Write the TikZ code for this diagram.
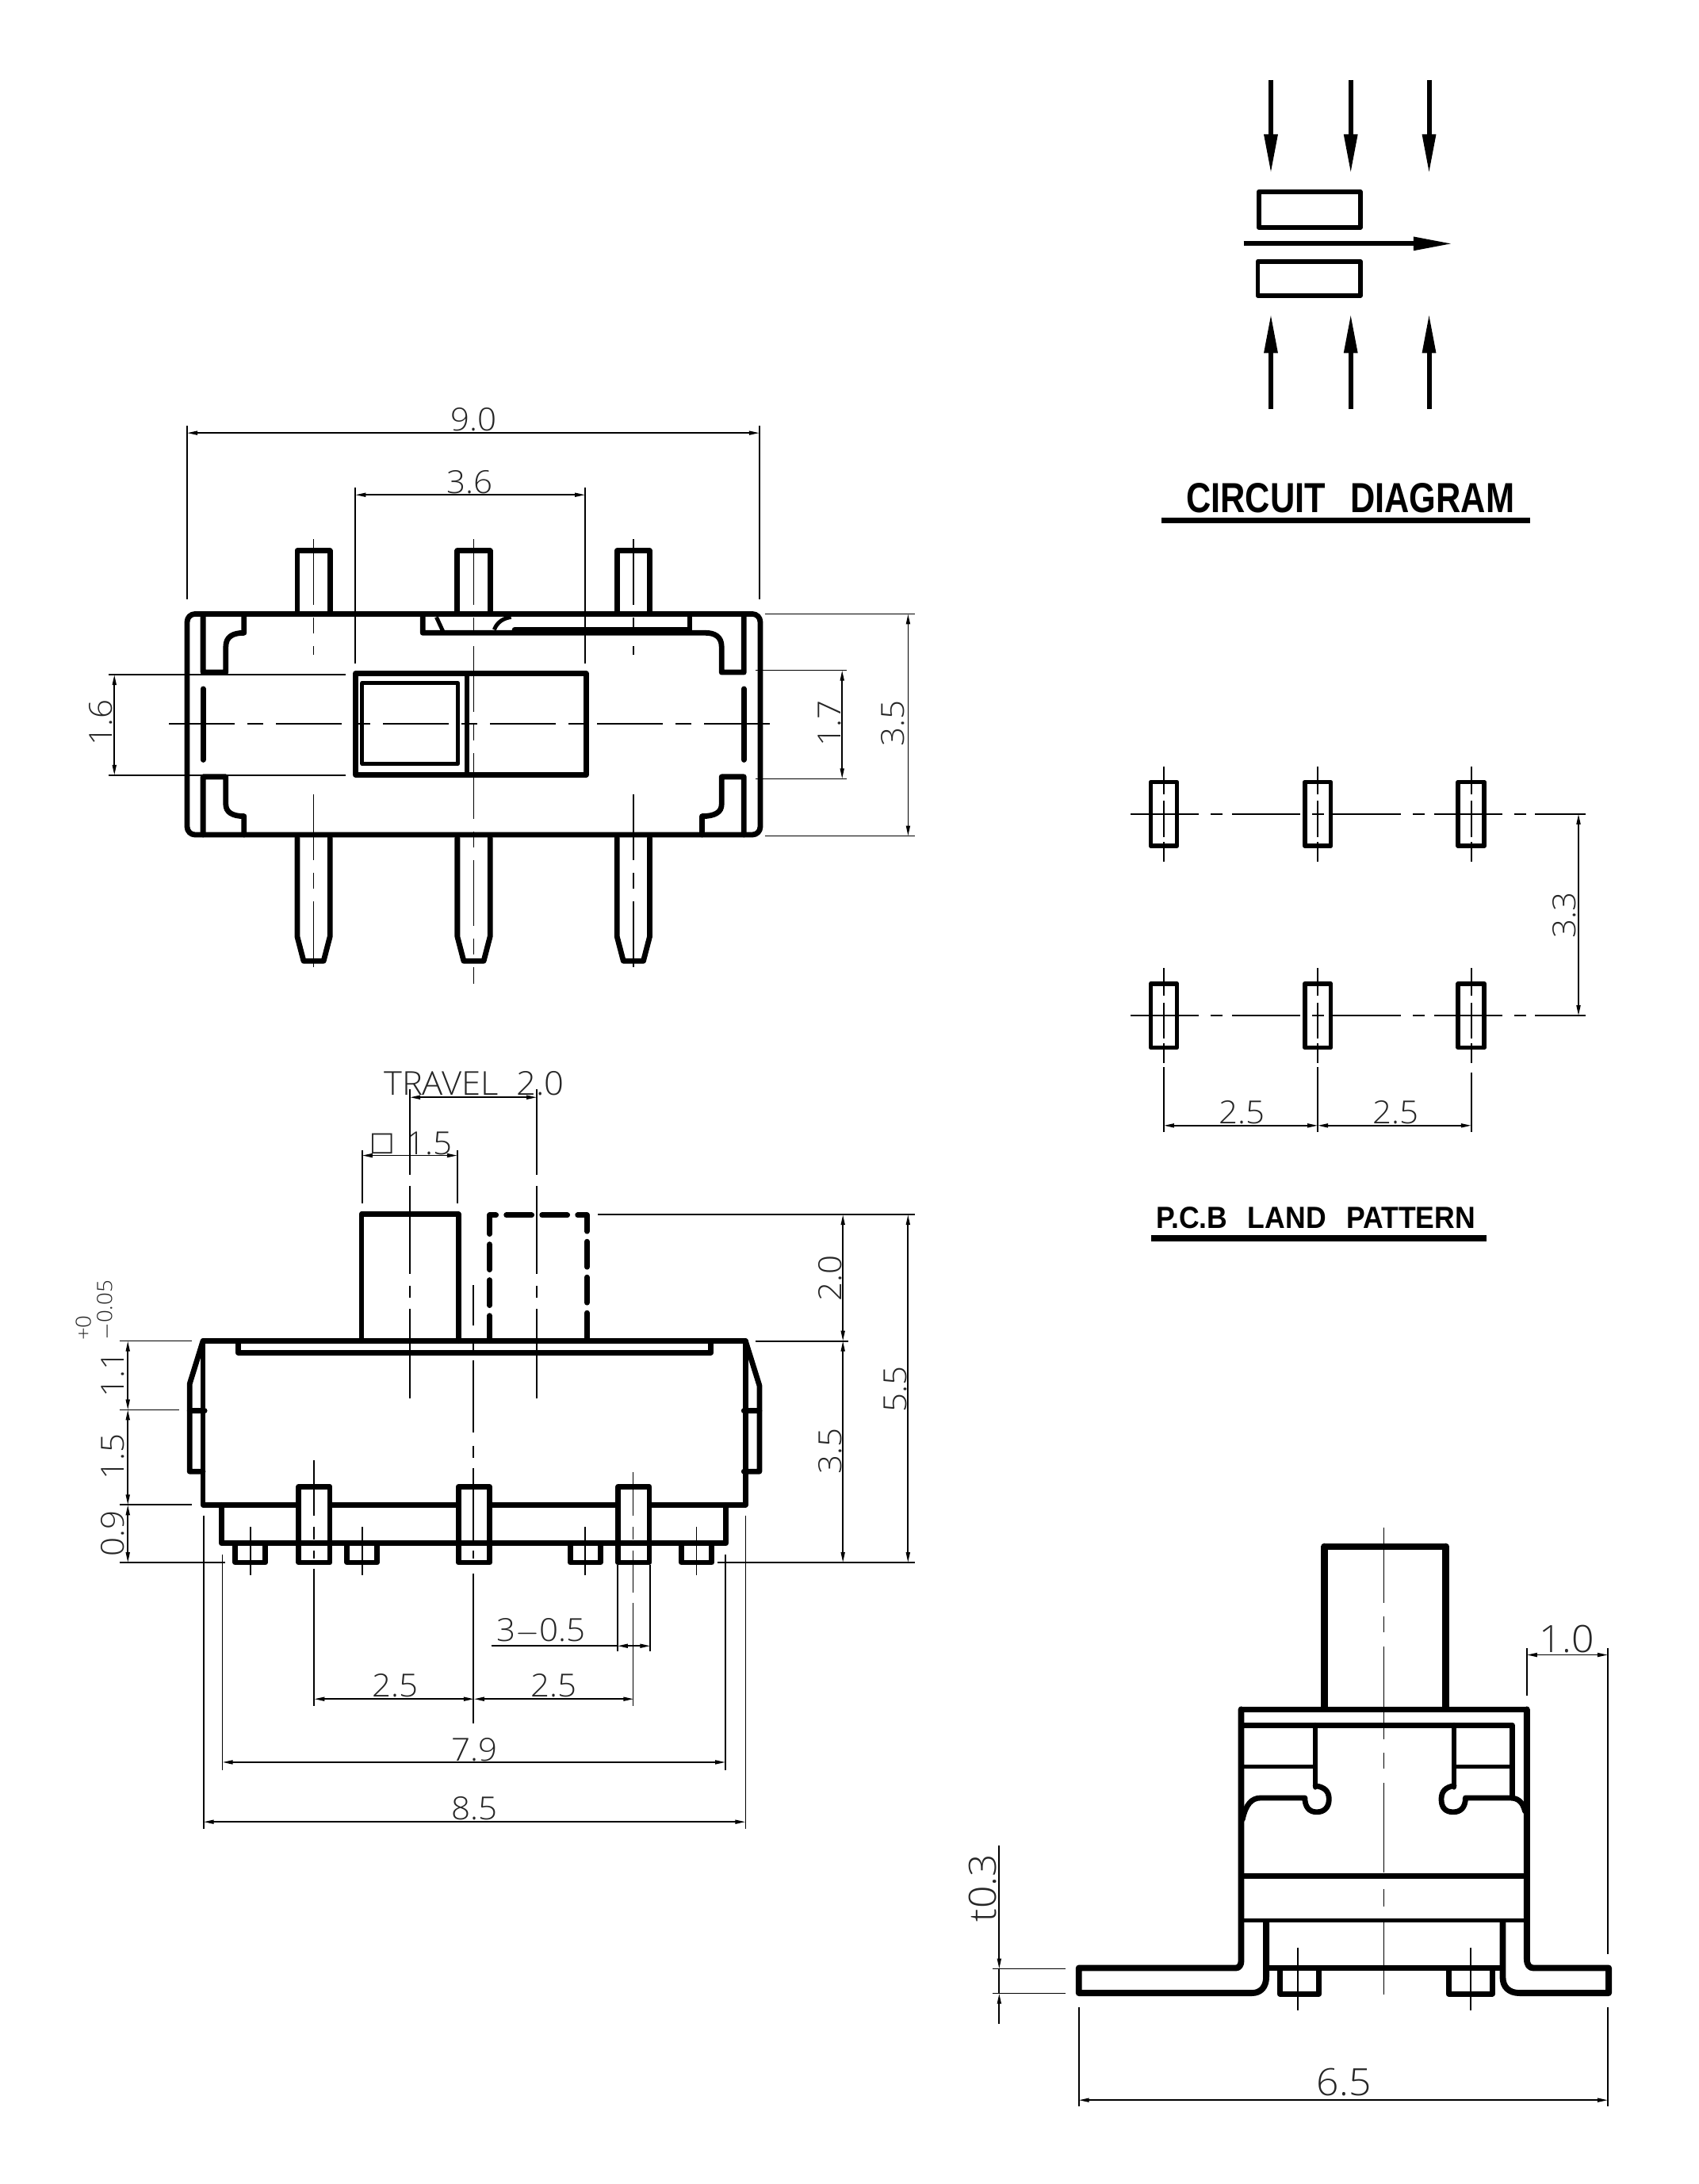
\documentclass[tikz,border=0pt]{standalone}
\usepackage{fontspec}
\setmainfont[FakeStretch=1.05]{Open Sans Light}
\newfontfamily\headfont{Liberation Sans Bold}
\newfontfamily\dvfont{DejaVu Sans}
\usetikzlibrary{arrows.meta}
\tikzset{
  thk/.style={line width=.068cm,line cap=round,line join=round},
  thkk/.style={line width=.078cm,line cap=round,line join=round},
  mid/.style={line width=.05cm,line join=round},
  midb/.style={line width=.058cm,line join=round},
  thn/.style={line width=.017cm},
  cl/.style={line width=.017cm,dash pattern=on .83cm off .16cm on .2cm off .16cm},
  cll/.style={line width=.017cm,dash pattern=on .86cm off .15cm on .15cm off .115cm},
  dim/.style={line width=.017cm,{Triangle[length=.13cm,width=.05cm]}-{Triangle[length=.13cm,width=.05cm]}},
  lbl/.style={inner sep=0pt,text=black!85,font=\fontsize{11.4}{13}\selectfont},
  lblb/.style={inner sep=0pt,text=black!85,font=\fontsize{13.5}{15}\selectfont},
  lbls/.style={inner sep=0pt,text=black!85,font=\fontsize{7.5}{9}\selectfont,rotate=90,anchor=west},
  bigarrow/.style={line width=.06cm,-{Triangle[length=.5cm,width=.16cm]}},
  pxv/.style={x=.01cm,y=-.01cm},
  view1/.style={xshift=1.5cm,yshift=-4.8cm,x=.00574cm,y=-.004974cm},
  view2/.style={xshift=.7cm,yshift=-13.3cm,x=.007015cm,y=-.006378cm},
  view3/.style={xshift=11.8cm,yshift=-19cm,x=.00574cm,y=-.005102cm},
  view4/.style={xshift=14cm,yshift=-.6cm,x=.003827cm,y=-.004082cm},
  view5/.style={xshift=13.8cm,yshift=-9.5cm,x=.004337cm,y=-.004145cm},
}
\begin{document}
\begin{tikzpicture}
\useasboundingbox (0,0) rectangle (21.43,-27.55);
\fill[white] (0,0) rectangle (21.43,-27.55);

%% ---------- top view
\begin{scope}[view1]
\draw[thk,rounded corners=.1cm] (150,592) rectangle (1410,1152);
\foreach \c in {428,780,1131}{
  \draw[thk] (\c-36,592)--(\c-36,432)--(\c+36,432)--(\c+36,592);
  \draw[thk] (\c-36,1160)--(\c-36,1410)--(\c-22,1472)--(\c+22,1472)--(\c+36,1410)--(\c+36,1160);
}
\draw[cl] (428,403)--(428,695);
\draw[cl] (1131,403)--(1131,695);
\draw[cl] (428,1050)--(428,1505);
\draw[cl] (1131,1050)--(1131,1505);
\draw[cl] (780,403)--(780,1530);
\draw[cl] (110,870)--(1450,870);
% corner brackets
\draw[thk] (185,592)--(185,740)--(235,740)--(235,675) .. controls (235,650) and (250,640) .. (275,640)--(275,592);
\draw[thk] (185,1152)--(185,1005)--(235,1005)--(235,1075) .. controls (235,1095) and (250,1105) .. (275,1105)--(275,1152);
\draw[thk] (1374,592)--(1374,740)--(1325,740)--(1325,675) .. controls (1325,650) and (1310,640) .. (1290,640)--(668,640)--(668,600);
\draw[thk] (1374,1152)--(1374,1005)--(1325,1005)--(1325,1075) .. controls (1325,1095) and (1310,1105) .. (1282,1105)--(1282,1152);
\draw[thk] (185,782)--(185,962);
\draw[thk] (1374,782)--(1374,962);
% slot
\draw[thk] (870,632)--(1255,632)--(1255,592);
\draw[mid] (825,632) .. controls (832,612) and (845,603) .. (862,600);
\draw[mid] (698,600)--(712,635);
% slider
\draw[thk] (520,743) rectangle (1027,1000);
\draw[thk] (765,743)--(765,1000);
\draw[mid] (535,767) rectangle (745,972);
% dimensions
\draw[thn] (150,115)--(150,555);
\draw[thn] (1408,115)--(1408,555);
\draw[dim] (150,133)--(1408,133);
\node[lbl] (d90) at (780,98) {9.0};
\draw[thn] (520,272)--(520,717);
\draw[thn] (1025,272)--(1025,717);
\draw[dim] (520,290)--(1025,290);
\node[lbl] (d36) at (772,257) {3.6};
\draw[thn] (-23,746)--(498,746);
\draw[thn] (-23,1001)--(498,1001);
\draw[dim] (-10,746)--(-10,1001);
\node[lbl,rotate=90] (d16) at (-40,868) {1.6};
\draw[thn] (1400,735)--(1600,735);
\draw[thn] (1400,1010)--(1600,1010);
\draw[dim] (1590,735)--(1590,1010);
\node[lbl,rotate=90] (d17) at (1562,870) {1.7};
\draw[thn] (1420,592)--(1750,592);
\draw[thn] (1420,1155)--(1750,1155);
\draw[dim] (1735,592)--(1735,1155);
\node[lbl,rotate=90] (d35) at (1702,870) {3.5};
\end{scope}

%% ---------- front view
\begin{scope}[view2]
\draw[thk] (265,567) rectangle (1240,891);
\draw[thk] (328,567)--(328,590)--(1178,590)--(1178,567);
\draw[thk] (550,567)--(550,316)--(724,316)--(724,567);
\draw[thk,dash pattern=on .32cm off .13cm] (780,567)--(780,318)--(955,318)--(955,567);
\draw[thk] (265,567)--(241,652)--(241,825)--(265,825);
\draw[thk] (241,705)--(268,705);
\draw[thk] (1240,567)--(1265,655)--(1265,825)--(1237,825);
\draw[thk] (1237,705)--(1265,705);
\draw[thk] (298,891)--(298,967)--(1205,967)--(1205,891);
\foreach \c in {465,752,1039}{
  \draw[thk,fill=white] (\c-28,855) rectangle (\c+28,1005);
  \draw[thk] (\c-28,967)--(\c+28,967);
}
\foreach \c in {350,551,952,1152}{
  \draw[thk] (\c-27,967)--(\c-27,1005)--(\c+27,1005)--(\c+27,967);
  \draw[thn] (\c,935)--(\c,1030);
}
% upper dims
\node[inner sep=0pt,text=black!85,font=\fontsize{11.8}{13}\selectfont] (dtr) at (752,58) {TRAVEL\ \ 2.0};
\draw[dim] (637,85)--(865,85);
\draw[thn] (551,190)--(551,295);
\draw[thn] (722,190)--(722,295);
\draw[dim] (551,200)--(722,200);
\node[inner sep=0pt,text=black!85,font=\dvfont\fontsize{9.5}{11}\selectfont] (dsqb) at (588,177) {□};
\node[lbl] (dsq) at (672,176) {1.5};
% right dims
\draw[thn] (975,317)--(1545,317);
\draw[thn] (1258,568)--(1425,568);
\draw[thn] (1190,1005)--(1545,1005);
\draw[dim] (1415,317)--(1415,567);
\draw[dim] (1415,567)--(1415,1005);
\draw[dim] (1532,317)--(1532,1005);
\node[lbl,rotate=90] (d20) at (1392,443) {2.0};
\node[lbl,rotate=90] (d35b) at (1392,785) {3.5};
\node[lbl,rotate=90] (d55) at (1510,662) {5.5};
% left dims
\draw[thn] (115,567)--(245,567);
\draw[thn] (115,703)--(222,703);
\draw[thn] (115,891)--(245,891);
\draw[thn] (115,1005)--(305,1005);
\draw[dim] (130,567)--(130,703);
\draw[dim] (130,703)--(130,891);
\draw[dim] (130,891)--(130,1005);
\node[lbl,rotate=90] (d11) at (103,632) {1.1};
\node[lbl,rotate=90] (d15) at (103,795) {1.5};
\node[lbl,rotate=90] (d09) at (103,948) {0.9};
\node[lbls] (tp) at (50,567) {+0};
\node[lbls] (tm) at (90,567) {$-$0.05};
% lower dims
\draw[thn] (1010,1010)--(1010,1180);
\draw[thn] (1069,1010)--(1069,1180);
\draw[thn] (783,1170)--(1010,1170);
\draw[dim] (1010,1170)--(1069,1170);
\node[lbl] (d305) at (873,1140) {3$-$0.5};
\draw[dim] (465,1275)--(752,1275);
\draw[dim] (752,1275)--(1039,1275);
\node[lbl] (d25a) at (610,1249) {2.5};
\node[lbl] (d25b) at (895,1249) {2.5};
\draw[thn] (300,990)--(300,1415);
\draw[thn] (1204,990)--(1204,1415);
\draw[dim] (300,1400)--(1204,1400);
\node[lbl] (d79) at (753,1375) {7.9};
\draw[thn] (266,912)--(266,1532);
\draw[thn] (1240,912)--(1240,1532);
\draw[dim] (266,1518)--(1240,1518);
\node[lbl] (d85) at (753,1492) {8.5};
\end{scope}
\begin{scope}[pxv]
\foreach \c in {517.3,677.3}{
  \draw[thn] (\c,1375)--(\c,1483) (\c,1497)--(\c,1608) (\c,1623)--(\c,1638) (\c,1652)--(\c,1765);
}
\draw[thn] (597.3,1622)--(597.3,1673) (597.3,1692)--(597.3,1705) (597.3,1717)--(597.3,1808)
  (597.3,1825)--(597.3,1840) (597.3,1853)--(597.3,1947) (597.3,1957)--(597.3,1967) (597.3,1986)--(597.3,2175);
\draw[thn] (799,1858)--(799,1913) (799,1927)--(799,1943) (799,1957)--(799,2010) (799,2023)--(799,2153);
\draw[thn] (396,1843)--(396,1913) (396,1927)--(396,1943) (396,1957)--(396,1967) (396,1980)--(396,2153);
\draw[thn] (1746.6,1928)--(1746.6,2023) (1746.6,2040)--(1746.6,2060) (1746.6,2078)--(1746.6,2195)
  (1746.6,2212)--(1746.6,2232) (1746.6,2250)--(1746.6,2363) (1746.6,2384)--(1746.6,2406) (1746.6,2426)--(1746.6,2517);
\end{scope}

%% ---------- side view
\begin{scope}[view3]
\draw[line width=.085cm,line cap=round] (855,500)--(855,100);
\draw[line width=.085cm,line cap=round] (1122,100)--(1122,500);
\draw[thkk] (855,100)--(1122,100);
\draw[thk] (672,503)--(1300,503);
\draw[thkk] (672,503)--(672,1125) .. controls (672,1135) and (668,1143) .. (660,1143)--(315,1143)--(315,1205)--(695,1205) .. controls (715,1205) and (727,1190) .. (727,1165)--(727,1030);
\draw[thkk] (1300,503)--(1300,1120) .. controls (1300,1135) and (1305,1143) .. (1315,1143)--(1480,1143)--(1480,1205)--(1285,1205) .. controls (1260,1205) and (1247,1190) .. (1247,1165)--(1247,1030);
\draw[thk] (672,915)--(1300,915);
\draw[mid] (672,1025)--(1300,1025);
\draw[thk] (672,542)--(1268,542)--(1268,720);
\draw[thk] (835,542)--(835,695);
\draw[thk] (1140,542)--(1140,695);
\draw[mid] (672,645)--(835,645);
\draw[mid] (1140,645)--(1268,645);
\draw[thk] (675,775) .. controls (682,738) and (695,722) .. (715,722)--(812,722) .. controls (812,745) and (822,757) .. (838,757) .. controls (855,757) and (865,745) .. (865,725) .. controls (865,705) and (855,695) .. (835,692);
\draw[thk] (1296,755) .. controls (1290,730) and (1280,722) .. (1262,722)--(1165,722) .. controls (1165,745) and (1155,757) .. (1138,757) .. controls (1120,757) and (1112,745) .. (1112,725) .. controls (1112,705) and (1122,695) .. (1140,692);
\draw[thk] (727,1143)--(1247,1143);
\draw[thk] (757,1150)--(757,1207)--(843,1207)--(843,1150);
\draw[thk] (1128,1150)--(1128,1207)--(1224,1207)--(1224,1150);
\draw[thn] (797,1092)--(797,1247);
\draw[thn] (1177,1092)--(1177,1247);
% dims
\draw[thn] (1300,352)--(1300,468);
\draw[thn] (1478,352)--(1478,1108);
\draw[dim] (1300,368)--(1478,368);
\node[lblb] (d10) at (1388,328) {1.0};
\draw[thn] (315,1240)--(315,1485);
\draw[thn] (1478,1240)--(1478,1485);
\draw[dim] (315,1470)--(1478,1470);
\node[lblb] (d65) at (898,1425) {6.5};
\draw[thn] (125,1145)--(285,1145);
\draw[thn] (125,1206)--(285,1206);
\draw[thn] (140,1145)--(140,1206);
\draw[line width=.017cm,-{Triangle[length=.13cm,width=.05cm]}] (140,840)--(140,1145);
\draw[line width=.017cm,-{Triangle[length=.13cm,width=.05cm]}] (140,1282)--(140,1206);
\node[lblb,rotate=90] (t03) at (103,945) {t0.3};
\end{scope}

%% ---------- circuit diagram
\begin{scope}[view4]
\foreach \c in {530,793,1051}{
  \draw[bigarrow] (\c,100)--(\c,390);
  \draw[bigarrow] (\c,1115)--(\c,820);
}
\draw[midb] (490,445) rectangle (825,555);
\draw[midb] (487,660) rectangle (825,765);
\draw[bigarrow] (440,605)--(1130,605);
\node[inner sep=0pt] (cdt) at (792,1390) {\resizebox{4.14cm}{.37cm}{\headfont CIRCUIT\ \, DIAGRAM}};
\draw[line width=.07cm] (170,1458)--(1385,1458);
\end{scope}

%% ---------- land pattern
\begin{scope}[view5]
\foreach \c in {203,651,1098}{
  \foreach \r in {185,798}{
    \draw[midb] (\c-38,\r-97) rectangle (\c+38,\r+97);
    \draw[thn] (\c,\r-145)--(\c,\r-60) (\c,\r-40)--(\c,\r+70) (\c,\r+85)--(\c,\r+145);
  }
}
\draw[cll] (107,185)--(1430,185);
\draw[cll] (107,798)--(1430,798);
\draw[dim] (1410,185)--(1410,798);
\node[lbl,rotate=90] (d33) at (1370,492) {3.3};
\draw[thn] (203,955)--(203,1152);
\draw[line width=.024cm] (651,955)--(651,1152);
\draw[thn] (1098,972)--(1098,1152);
\draw[dim] (203,1132)--(651,1132);
\draw[dim] (651,1132)--(1098,1132);
\node[lbl] (d25c) at (430,1092) {2.5};
\node[lbl] (d25d) at (877,1092) {2.5};
\node[inner sep=0pt] (pcb) at (645,1412) {\resizebox{4.03cm}{.27cm}{\headfont P.C.B\ \, LAND\ \, PATTERN}};
\draw[line width=.075cm] (165,1475)--(1142,1475);
\end{scope}
\end{tikzpicture}
\end{document}
